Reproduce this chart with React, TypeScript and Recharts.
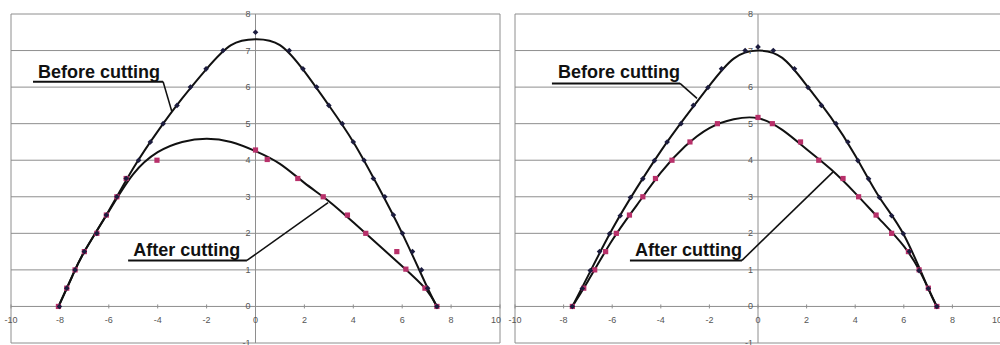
import React from "react";
import { ComposedChart, XAxis, YAxis, Line, Scatter, ReferenceLine, ReferenceDot } from "recharts";

type Pt = { x: number; y: number };

const xTicks = [-10, -8, -6, -4, -2, 0, 2, 4, 6, 8, 10];
const yTicks = [-1, 0, 1, 2, 3, 4, 5, 6, 7, 8];

const toPts = (rows: number[][]): Pt[] => rows.map(([x, y]) => ({ x, y }));

// left panel: measured points
const leftBefore = toPts([
  [-8.02, 0], [-7.72, 0.5], [-7.38, 1.0], [-7.0, 1.5], [-6.49, 2.0], [-6.1, 2.5], [-5.67, 3.0],
  [-5.29, 3.5], [-4.78, 4.0], [-4.3, 4.5], [-3.78, 5.0], [-3.21, 5.5], [-2.66, 6.0], [-2.02, 6.5],
  [-1.33, 7.0], [0, 7.5], [1.38, 7.0], [1.94, 6.5], [2.5, 6.0], [3.0, 5.5], [3.55, 5.0], [4.0, 4.5],
  [4.44, 4.0], [4.82, 3.5], [5.29, 3.0], [5.64, 2.5], [6.01, 2.0], [6.42, 1.5], [6.79, 1.0],
  [7.04, 0.5], [7.42, 0],
]);
const leftAfter = toPts([
  [-8.06, 0], [-7.72, 0.5], [-7.38, 1.0], [-7.0, 1.5], [-6.49, 2.0], [-6.1, 2.5], [-5.67, 3.0],
  [-5.29, 3.5], [-4.03, 4.0], [0, 4.28], [0.48, 4.02], [1.73, 3.5], [2.77, 3.0], [3.76, 2.5],
  [4.51, 2.0], [5.78, 1.5], [6.15, 1.02], [6.93, 0.5], [7.42, 0],
]);
// left panel: trend curves
const leftBeforeFit = toPts([
  [-8.05, 0], [-7.5, 0.82], [-7, 1.5], [-6, 2.62], [-5, 3.78], [-4, 4.79], [-3, 5.69], [-2, 6.5],
  [-1, 7.15], [0, 7.31], [1, 7.15], [2, 6.43], [3, 5.5], [4, 4.5], [5, 3.3], [6, 2.0], [7, 0.56],
  [7.42, 0],
]);
const leftAfterFit = toPts([
  [-8.06, 0], [-7.5, 0.82], [-7, 1.5], [-6, 2.6], [-5, 3.62], [-4, 4.22], [-3, 4.5], [-2, 4.59],
  [-1, 4.5], [0, 4.25], [1, 3.9], [2, 3.38], [3, 2.88], [4, 2.3], [5, 1.7], [6, 1.1], [6.93, 0.5],
  [7.42, 0],
]);

// right panel: measured points
const rightBefore = toPts([
  [-7.64, 0], [-7.23, 0.49], [-6.9, 0.98], [-6.52, 1.5], [-6.11, 1.99], [-5.67, 2.48], [-5.25, 2.98],
  [-4.74, 3.49], [-4.26, 3.99], [-3.74, 4.5], [-3.17, 5.0], [-2.66, 5.5], [-2.06, 5.99], [-1.5, 6.5],
  [-0.53, 7.0], [0, 7.1], [0.63, 7.0], [1.5, 6.5], [2.06, 5.99], [2.61, 5.5], [3.21, 5.0], [3.7, 4.5],
  [4.11, 3.99], [4.55, 3.49], [5.0, 2.98], [5.5, 2.48], [5.98, 1.99], [6.23, 1.5], [6.63, 0.98],
  [7.01, 0.49], [7.36, 0],
]);
const rightAfter = toPts([
  [-7.64, 0], [-7.17, 0.5], [-6.72, 1.0], [-6.27, 1.5], [-5.83, 2.0], [-5.29, 2.5], [-4.74, 3.0],
  [-4.22, 3.5], [-3.54, 4.0], [-2.8, 4.5], [-1.67, 5.0], [0, 5.17], [0.59, 5.0], [1.75, 4.5],
  [2.5, 4.0], [3.5, 3.5], [4.14, 3.0], [4.86, 2.5], [5.5, 2.0], [6.19, 1.5], [6.63, 1.0],
  [7.01, 0.5], [7.36, 0],
]);
const rightBeforeFit = toPts([
  [-7.64, 0], [-7, 0.83], [-6, 2.11], [-5, 3.23], [-4, 4.25], [-3, 5.17], [-2, 6.04], [-1, 6.78],
  [0, 7.0], [1, 6.8], [2, 6.05], [3, 5.17], [4, 4.13], [5, 2.98], [6, 1.96], [7, 0.5], [7.36, 0],
]);
const rightAfterFit = toPts([
  [-7.64, 0], [-7, 0.69], [-6, 1.81], [-5, 2.76], [-4, 3.66], [-3, 4.38], [-2, 4.88], [-1, 5.12],
  [0, 5.15], [1, 4.83], [2, 4.3], [3, 3.75], [4, 3.1], [5, 2.39], [6, 1.65], [6.63, 1.0], [7, 0.5],
  [7.36, 0],
]);

// callout labels: [text x, text y] and leader [start, corner, end]
const leftBeforeCallout = { text: [-8.9, 6.26], line: [[-9.1, 6.15], [-3.78, 6.15], [-3.42, 5.33]] };
const leftAfterCallout = { text: [-5.0, 1.37], line: [[-5.21, 1.26], [-0.35, 1.26], [2.97, 2.84]] };
const rightBeforeCallout = { text: [-8.23, 6.24], line: [[-8.48, 6.1], [-3.21, 6.1], [-2.51, 5.69]] };
const rightAfterCallout = { text: [-5.06, 1.37], line: [[-5.27, 1.26], [-0.66, 1.26], [3.09, 3.68]] };

const FONT = "'Liberation Sans', Arial, sans-serif";
const GRID = "#8e8e8e";

const Diamond = (p: any) => {
  const { cx, cy } = p;
  return <polygon points={`${cx},${cy - 2.8} ${cx + 2.8},${cy} ${cx},${cy + 2.8} ${cx - 2.8},${cy}`} fill="#1c1c3e" />;
};
const Square = (p: any) => <rect x={p.cx - 2.6} y={p.cy - 2.6} width={5.2} height={5.2} fill="#b8306a" />;

type Callout = { text: number[]; line: number[][] };

const renderCallout = (label: string, c: Callout, key: string) => [
  <ReferenceDot
    key={key + "t"}
    x={c.text[0]}
    y={c.text[1]}
    r={0}
    shape={(p: any) => (
      <text x={p.cx} y={p.cy} fontFamily={FONT} fontWeight="bold" fontSize={18} fill="#111">
        {label}
      </text>
    )}
  />,
  <ReferenceLine
    key={key + "a"}
    segment={[{ x: c.line[0][0], y: c.line[0][1] }, { x: c.line[1][0], y: c.line[1][1] }]}
    stroke="#111"
    strokeWidth={2}
  />,
  <ReferenceLine
    key={key + "b"}
    segment={[{ x: c.line[1][0], y: c.line[1][1] }, { x: c.line[2][0], y: c.line[2][1] }]}
    stroke="#111"
    strokeWidth={1.6}
  />,
];

interface PanelProps {
  before: Pt[];
  after: Pt[];
  beforeFit: Pt[];
  afterFit: Pt[];
  beforeCallout: Callout;
  afterCallout: Callout;
  width: number;
  left: number;
}

const Panel = ({ before, after, beforeFit, afterFit, beforeCallout, afterCallout, width, left }: PanelProps) => (
  <ComposedChart
    width={width}
    height={345}
    margin={{ top: 14, right: 2, bottom: 2, left }}
    style={{ overflow: "visible" }}
  >
    <XAxis type="number" dataKey="x" domain={[-10, 10]} ticks={xTicks} hide allowDataOverflow />
    <YAxis type="number" dataKey="y" domain={[-1, 8]} ticks={yTicks} hide allowDataOverflow />
    {yTicks.map((t) => (
      <ReferenceLine key={"g" + t} y={t} stroke={GRID} strokeWidth={1} />
    ))}
    <ReferenceLine x={-10} stroke={GRID} />
    <ReferenceLine x={10} stroke={GRID} />
    <ReferenceLine x={0} stroke={GRID} />
    {xTicks.map((t) => (
      <ReferenceDot
        key={"xt" + t}
        x={t}
        y={0}
        r={0}
        shape={(p: any) => (
          <g>
            <line x1={p.cx} x2={p.cx} y1={p.cy - 2} y2={p.cy + 2} stroke={GRID} />
            <text
              x={t === 10 ? p.cx + 1 : p.cx}
              y={p.cy + 17}
              textAnchor={t === 10 ? "end" : "middle"}
              fontFamily={FONT}
              fontSize={9}
              fill="#555"
            >
              {t}
            </text>
          </g>
        )}
      />
    ))}
    {yTicks.map((t) => (
      <ReferenceDot
        key={"yt" + t}
        x={0}
        y={t}
        r={0}
        shape={(p: any) => (
          <text x={p.cx - 5} y={p.cy + 3} textAnchor="end" fontFamily={FONT} fontSize={9} fill="#555">
            {t}
          </text>
        )}
      />
    ))}
    <Scatter data={after} shape={Square} isAnimationActive={false} />
    <Scatter data={before} shape={Diamond} isAnimationActive={false} />
    <Line data={beforeFit} dataKey="y" type="natural" dot={false} stroke="#111" strokeWidth={2} isAnimationActive={false} />
    <Line data={afterFit} dataKey="y" type="natural" dot={false} stroke="#111" strokeWidth={2} isAnimationActive={false} />
    {renderCallout("Before cutting", beforeCallout, "bc")}
    {renderCallout("After cutting", afterCallout, "ac")}
  </ComposedChart>
);

export default function App() {
  return (
    <div style={{ position: "absolute", left: 0, top: 0, width: 1000, height: 345, overflow: "hidden", background: "#fff" }}>
      <div style={{ position: "absolute", left: 500, top: 0 }}>
        <Panel
          before={rightBefore}
          after={rightAfter}
          beforeFit={rightBeforeFit}
          afterFit={rightAfterFit}
          beforeCallout={rightBeforeCallout}
          afterCallout={rightAfterCallout}
          width={503}
          left={15}
        />
      </div>
      <div style={{ position: "absolute", left: 0, top: 0 }}>
        <Panel
          before={leftBefore}
          after={leftAfter}
          beforeFit={leftBeforeFit}
          afterFit={leftAfterFit}
          beforeCallout={leftBeforeCallout}
          afterCallout={leftAfterCallout}
          width={502}
          left={11}
        />
      </div>
    </div>
  );
}
